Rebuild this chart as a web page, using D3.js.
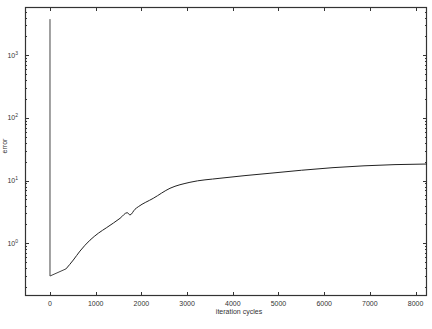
<!DOCTYPE html>
<html>
<head>
<meta charset="utf-8">
<script src="https://cdn.jsdelivr.net/npm/d3@7"></script>
<style>
body { margin: 0; background: #fff; }
svg text { font-family: "Liberation Sans", Arial, sans-serif; fill: #333; }
</style>
</head>
<body>
<script>
// iteration cycle vs error
var iterations = [0, 0, 350, 510, 656, 875, 1060, 1241, 1532, 1691, 1750, 1860, 1932, 2260, 2626, 3063, 3720, 4814, 6193, 7550, 8250];
var errors = [3780, 0.30, 0.39, 0.54, 0.75, 1.12, 1.45, 1.78, 2.50, 3.08, 2.83, 3.49, 3.83, 5.22, 7.54, 9.40, 10.9, 13.1, 16.1, 18.0, 18.4];
var xTicks = [0, 1000, 2000, 3000, 4000, 5000, 6000, 7000, 8000];
var yExponents = [0, 1, 2, 3];

var data = iterations.map(function (d, i) {
    return { it: d, err: errors[i] };
});

var W = 432, H = 329;
var margin = { top: 7, right: 5, bottom: 33, left: 25 },
    width = W - margin.left - margin.right,
    height = H - margin.top - margin.bottom;

var x = d3.scaleLinear()
    .domain([-547, 8250])
    .range([0, width]);

var y = d3.scaleLog()
    .domain([0.144, 5900])
    .range([height, 0]);

var svg = d3.select('body').append('svg')
    .attr('width', W)
    .attr('height', H);

var main = svg.append('g')
    .attr('transform', 'translate(' + margin.left + ',' + margin.top + ')');

// minor log ticks
var minor = [];
for (var e = -1; e <= 3; e++) {
    for (var m = 1; m <= 9; m++) {
        var v = m * Math.pow(10, e);
        if (v >= y.domain()[0] && v <= y.domain()[1]) minor.push(v);
    }
}
var majorY = yExponents.map(function (p) { return Math.pow(10, p); });

var tickColor = '#333';

// left and right y ticks (inward)
[0, width].forEach(function (xx, side) {
    var dir = side === 0 ? 1 : -1;
    main.selectAll('.ymin' + side)
        .data(minor)
        .enter().append('line')
        .attr('x1', xx).attr('x2', xx + dir * 2)
        .attr('y1', function (d) { return Math.round(y(d)) + 0.5; })
        .attr('y2', function (d) { return Math.round(y(d)) + 0.5; })
        .attr('stroke', tickColor);
    main.selectAll('.ymaj' + side)
        .data(majorY)
        .enter().append('line')
        .attr('x1', xx).attr('x2', xx + dir * 4)
        .attr('y1', function (d) { return Math.round(y(d)) + 0.5; })
        .attr('y2', function (d) { return Math.round(y(d)) + 0.5; })
        .attr('stroke', tickColor);
});

// top and bottom x ticks (inward)
[0, height].forEach(function (yy, side) {
    var dir = side === 0 ? 1 : -1;
    main.selectAll('.xmaj' + side)
        .data(xTicks)
        .enter().append('line')
        .attr('x1', function (d) { return Math.round(x(d)) + 0.5; })
        .attr('x2', function (d) { return Math.round(x(d)) + 0.5; })
        .attr('y1', yy).attr('y2', yy + dir * 4)
        .attr('stroke', tickColor);
});

// frame
main.append('rect')
    .attr('x', 0.5).attr('y', 0.5)
    .attr('width', width - 1).attr('height', height - 1)
    .attr('fill', 'none')
    .attr('stroke', tickColor)
    .attr('stroke-width', 1.2);

// x tick labels
main.selectAll('.xlab')
    .data(xTicks)
    .enter().append('text')
    .attr('x', function (d) { return x(d); })
    .attr('y', height + 10)
    .attr('text-anchor', 'middle')
    .attr('font-size', 7)
    .text(function (d) { return d; });

// y tick labels 10^n
var ylab = main.selectAll('.ylab')
    .data(yExponents)
    .enter().append('text')
    .attr('x', -7)
    .attr('y', function (d) { return y(Math.pow(10, d)) + 2.5; })
    .attr('text-anchor', 'end')
    .attr('font-size', 7);
ylab.append('tspan').text('10');
ylab.append('tspan')
    .attr('dy', -3)
    .attr('font-size', 5)
    .text(function (d) { return d; });

// axis titles
svg.append('text')
    .attr('x', 239)
    .attr('y', 314)
    .attr('text-anchor', 'middle')
    .attr('font-size', 7)
    .text('iteration cycles');

svg.append('text')
    .attr('transform', 'translate(7,146) rotate(-90)')
    .attr('text-anchor', 'middle')
    .attr('font-size', 7)
    .text('error');

// initial spike and first straight run, then the smooth curve
var line = d3.line()
    .x(function (d) { return x(d.it); })
    .y(function (d) { return y(d.err); });

main.append('path')
    .datum(data.slice(0, 3))
    .attr('fill', 'none')
    .attr('stroke', '#444')
    .attr('stroke-width', 1)
    .attr('d', line);

main.append('path')
    .datum(data.slice(2))
    .attr('fill', 'none')
    .attr('stroke', '#222')
    .attr('stroke-width', 1)
    .attr('d', line.curve(d3.curveMonotoneX));
</script>
</body>
</html>
